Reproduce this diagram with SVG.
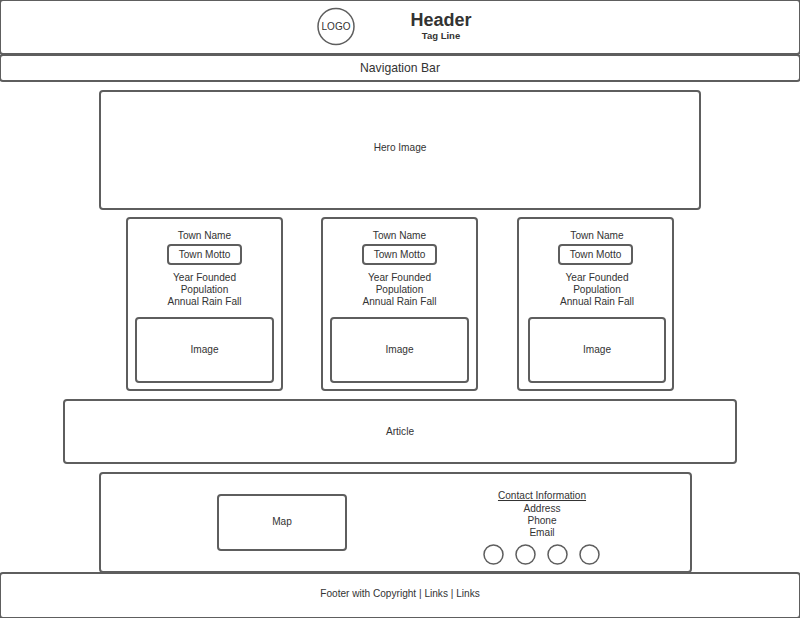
<svg xmlns="http://www.w3.org/2000/svg" width="800" height="618" viewBox="0 0 800 618">
<style>
.b{fill:#fff;stroke:#5e5e5e;stroke-width:2}
.c{fill:none;stroke:#5e5e5e;stroke-width:1.5}
text{font-family:"Liberation Sans",Arial,sans-serif;fill:#333;text-anchor:middle}
.s{font-size:10px}
.m{font-size:10.1px}
</style>
<rect width="800" height="618" fill="#fff"/>
<g id="header">
<rect class="b" x="0" y="0" width="800" height="54" rx="3"/>
<circle class="c" cx="336" cy="26.5" r="18"/>
<text class="s" x="336" y="30">LOGO</text>
<text x="441" y="26" font-size="18" font-weight="bold">Header</text>
<text x="441" y="38.5" font-size="9.5" font-weight="bold">Tag Line</text>
</g>
<g id="nav">
<rect class="b" x="0" y="55" width="800" height="26" rx="3"/>
<text x="400" y="71.5" font-size="12.2">Navigation Bar</text>
</g>
<g id="hero">
<rect class="b" x="100" y="91" width="600" height="118" rx="3"/>
<text class="m" x="400" y="151">Hero Image</text>
</g>
<g id="card1">
<rect class="b" x="127" y="218" width="155" height="172" rx="3"/>
<text class="m" x="204.5" y="239">Town Name</text>
<rect class="b" x="168" y="245" width="73" height="19" rx="3"/>
<text class="m" x="204.5" y="257.5">Town Motto</text>
<text class="m" x="204.5" y="281">Year Founded</text>
<text class="m" x="204.5" y="293">Population</text>
<text class="m" x="204.5" y="305">Annual Rain Fall</text>
<rect class="b" x="136" y="318" width="137" height="64" rx="3"/>
<text class="m" x="204.5" y="353">Image</text>
</g>
<g id="card2">
<rect class="b" x="322" y="218" width="155" height="172" rx="3"/>
<text class="m" x="399.5" y="239">Town Name</text>
<rect class="b" x="363" y="245" width="73" height="19" rx="3"/>
<text class="m" x="399.5" y="257.5">Town Motto</text>
<text class="m" x="399.5" y="281">Year Founded</text>
<text class="m" x="399.5" y="293">Population</text>
<text class="m" x="399.5" y="305">Annual Rain Fall</text>
<rect class="b" x="331" y="318" width="137" height="64" rx="3"/>
<text class="m" x="399.5" y="353">Image</text>
</g>
<g id="card3">
<rect class="b" x="518" y="218" width="155" height="172" rx="3"/>
<text class="m" x="597" y="239">Town Name</text>
<rect class="b" x="559" y="245" width="73" height="19" rx="3"/>
<text class="m" x="595.5" y="257.5">Town Motto</text>
<text class="m" x="597" y="281">Year Founded</text>
<text class="m" x="597" y="293">Population</text>
<text class="m" x="597" y="305">Annual Rain Fall</text>
<rect class="b" x="529" y="318" width="136" height="64" rx="3"/>
<text class="m" x="597" y="353">Image</text>
</g>
<g id="article">
<rect class="b" x="64" y="400" width="672" height="63" rx="3"/>
<text class="m" x="400" y="435">Article</text>
</g>
<g id="contact-panel">
<rect class="b" x="100" y="473" width="591" height="99" rx="3"/>
<rect class="b" x="218" y="495" width="128" height="55" rx="3"/>
<text class="m" x="282" y="524.5">Map</text>
<text class="m" x="542" y="499" text-decoration="underline">Contact Information</text>
<text class="m" x="542" y="511.5">Address</text>
<text class="m" x="542" y="523.5">Phone</text>
<text class="m" x="542" y="535.5">Email</text>
<circle class="c" cx="493.5" cy="554.5" r="9.5"/>
<circle class="c" cx="525.5" cy="554.5" r="9.5"/>
<circle class="c" cx="557.5" cy="554.5" r="9.5"/>
<circle class="c" cx="589.5" cy="554.5" r="9.5"/>
</g>
<g id="footer">
<rect class="b" x="0" y="573" width="800" height="45" rx="3"/>
<text class="m" x="400" y="597">Footer with Copyright | Links | Links</text>
</g>
<g id="connectors"></g>
</svg>
